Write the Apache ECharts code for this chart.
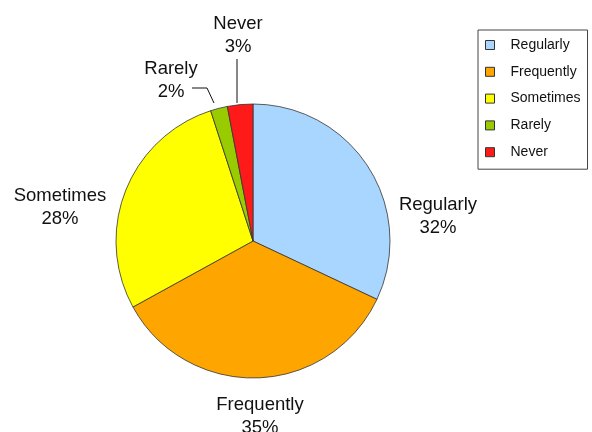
<!DOCTYPE html>
<html><head><meta charset="utf-8">
<script src="https://cdn.jsdelivr.net/npm/echarts@6/dist/echarts.min.js"></script>
<style>html,body{margin:0;padding:0;background:#fff}#c{width:592px;height:432px}</style>
</head><body><div id="c"></div>
<script>
const categories = ['Regularly', 'Frequently', 'Sometimes', 'Rarely', 'Never'];
const values = [32, 35, 28, 2, 3];
const colors = ['#a8d6fe', '#ffa500', '#ffff00', '#99cc00', '#ff1a1a'];

// label placement (text annotations, not data marks)
const labelPos = [[438, 216], [260, 416], [60, 207], [171, 80], [238, 35]];
const labelLines = [null, null, null, [[214, 103], [207, 88], [192, 88]], [[237, 103], [237, 59]]];

const FONT = "'Liberation Sans', Arial, Helvetica, sans-serif";
const chart = echarts.init(document.getElementById('c'), null, {renderer: 'canvas'});
chart.setOption({
  animation: false,
  backgroundColor: '#fff',
  legend: {
    orient: 'vertical',
    left: 478, top: 30,
    data: categories,
    icon: 'rect',
    itemWidth: 9, itemHeight: 9,
    itemGap: 12.8,
    padding: [8, 7, 10, 7],
    borderColor: '#444', borderWidth: 1,
    textStyle: {fontFamily: FONT, fontSize: 14, color: '#111', padding: [0, 0, 0, 11]},
    itemStyle: {borderColor: '#333', borderWidth: 1}
  },
  series: [{
    type: 'pie',
    center: [253, 241],
    radius: 137,
    startAngle: 90,
    clockwise: true,
    data: categories.map((c, i) => ({
      name: c, value: values[i],
      itemStyle: {color: colors[i]},
      labelLine: {show: !!labelLines[i]}
    })),
    itemStyle: {borderColor: '#333', borderWidth: 0.8},
    label: {
      show: true, position: 'outside', alignTo: 'none',
      overflow: 'none', width: 200,
      formatter: '{b}\n{d}%',
      fontFamily: FONT, fontSize: 18.5, lineHeight: 23,
      color: '#111', align: 'center'
    },
    labelLine: {lineStyle: {color: '#111', width: 1}, smooth: false},
    labelLayout: function (p) {
      const i = p.dataIndex;
      const r = {x: labelPos[i][0], y: labelPos[i][1], align: 'center', verticalAlign: 'middle'};
      if (labelLines[i]) r.labelLinePoints = labelLines[i];
      return r;
    },
    emphasis: {disabled: true}
  }]
});
</script></body></html>
